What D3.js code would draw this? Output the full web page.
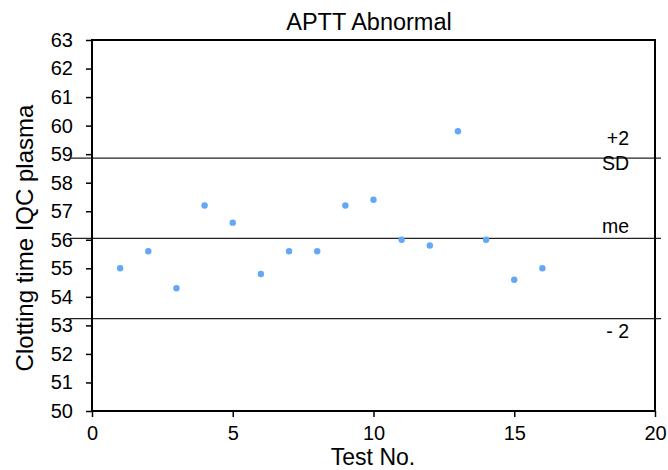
<!DOCTYPE html>
<html>
<head>
<meta charset="utf-8">
<script src="https://cdn.jsdelivr.net/npm/d3@7"></script>
<style>
  body { margin: 0; background: #fff; }
  text { font-family: "Liberation Sans", Arial, sans-serif; fill: #000; }
</style>
</head>
<body>
<svg class="chart"></svg>
<script>
//
// data
//

var test_no = [1, 2, 3, 4, 5, 6, 7, 8, 9, 10, 11, 12, 13, 14, 15, 16];
var clot_time = [55.0, 55.6, 54.3, 57.2, 56.6, 54.8, 55.6, 55.6, 57.2, 57.4, 56.0, 55.8, 59.8, 56.0, 54.6, 55.0];

// control limits: +2 SD, mean, -2 SD
var limit_values = [58.86, 56.05, 53.24];
var limit_labels = [["+2", "SD"], ["me"], ["- 2"]];

var x_ticks = [0, 5, 10, 15, 20];
var y_ticks = d3.range(50, 64);

//
// layout
//

var width = 668, height = 470;
var plot = { left: 92, right: 655, top: 40, bottom: 411 };

var svg = d3.select(".chart")
    .attr("width", width)
    .attr("height", height);

var x = d3.scaleLinear().domain([0, 20]).range([plot.left, plot.right]);
var y = d3.scaleLinear().domain([50, 63]).range([plot.bottom, plot.top]);

// axes
var x_axis = svg.append("g")
    .attr("transform", "translate(0," + plot.bottom + ")")
    .call(d3.axisBottom(x).tickValues(x_ticks).tickSize(6).tickPadding(9));
var y_axis = svg.append("g")
    .attr("transform", "translate(" + plot.left + ",0)")
    .call(d3.axisLeft(y).tickValues(y_ticks).tickSize(6).tickPadding(13));

[x_axis, y_axis].forEach(function (a) {
    a.select(".domain").remove();
    a.selectAll("line").attr("stroke", "#000").attr("stroke-width", 1.5);
    a.selectAll("text")
        .style("font-family", "Liberation Sans, Arial, sans-serif")
        .style("font-size", "20px");
});

// control lines
svg.selectAll("line.limit")
    .data(limit_values)
    .enter().append("line")
    .attr("class", "limit")
    .attr("x1", plot.left - 22)
    .attr("x2", plot.right + 6)
    .attr("y1", function (d) { return y(d); })
    .attr("y2", function (d) { return y(d); })
    .attr("stroke", "#222")
    .attr("stroke-width", 1.2);

// plot frame
svg.append("rect")
    .attr("x", plot.left)
    .attr("y", plot.top)
    .attr("width", plot.right - plot.left)
    .attr("height", plot.bottom - plot.top)
    .attr("fill", "none")
    .attr("stroke", "#000")
    .attr("stroke-width", 2);

// limit labels
var label_y = [[145, 170], [233], [338]];
limit_labels.forEach(function (lines, i) {
    lines.forEach(function (t, j) {
        svg.append("text")
            .attr("x", 629)
            .attr("y", label_y[i][j])
            .attr("text-anchor", "end")
            .style("font-size", "19.5px")
            .text(t);
    });
});

// points
svg.selectAll("circle.pt")
    .data(test_no)
    .enter().append("circle")
    .attr("class", "pt")
    .attr("cx", function (d) { return x(d); })
    .attr("cy", function (d, i) { return y(clot_time[i]); })
    .attr("r", 3.2)
    .attr("fill", "#62a8f7");

// titles
svg.append("text")
    .attr("x", 369)
    .attr("y", 30)
    .attr("text-anchor", "middle")
    .style("font-size", "23.5px")
    .text("APTT Abnormal");

svg.append("text")
    .attr("x", 373)
    .attr("y", 465)
    .attr("text-anchor", "middle")
    .style("font-size", "23px")
    .text("Test No.");

svg.append("text")
    .attr("transform", "translate(33,238) rotate(-90)")
    .attr("text-anchor", "middle")
    .style("font-size", "24px")
    .text("Clotting time IQC plasma");
</script>
</body>
</html>
